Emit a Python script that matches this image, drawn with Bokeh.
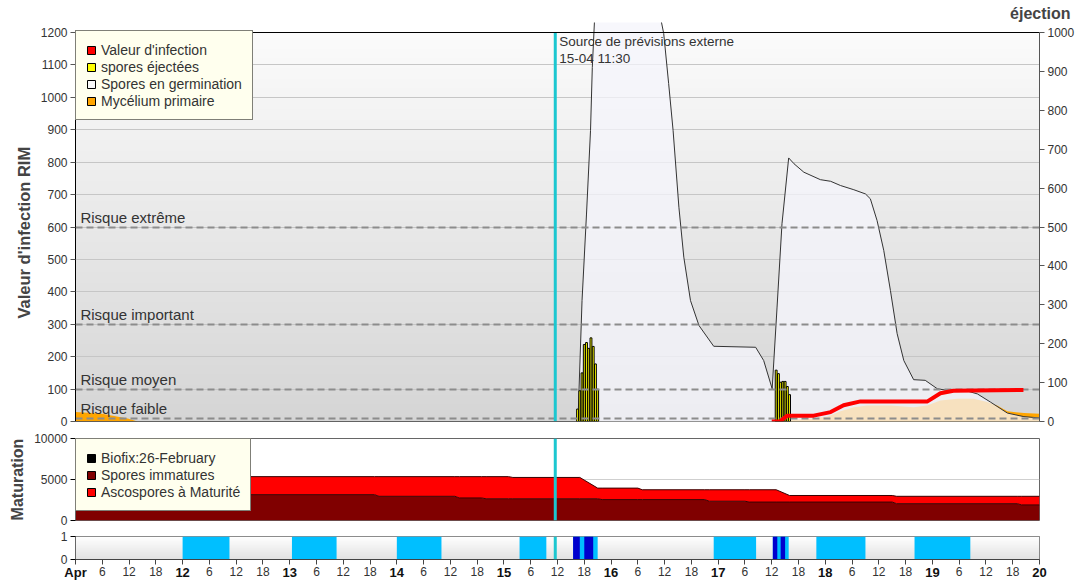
import numpy as np
from bokeh.plotting import figure
from bokeh.models import (ColumnDataSource, Range1d, LinearAxis, FixedTicker, Span,
                          Label, Legend, LegendItem, Grid, Title)
from bokeh.layouts import column
from bokeh.embed import file_html
from bokeh.resources import INLINE

FONT = "Liberation Sans"

# ---------------- data ----------------
# time axis: hours since 11 April 00:00
t_start, t_end = 0, 216
day_labels = ["Apr", "12", "13", "14", "15", "16", "17", "18", "19", "20"]
hour_labels = ["6", "12", "18"]

forecast_t = 107.5
forecast_text = "Source de prévisions externe\n15-04 11:30"

rim_ticks = list(range(0, 1201, 100))
ej_ticks = list(range(0, 1001, 100))
risk_levels = [10, 100, 300, 600]
risk_names = ["Risque faible", "Risque moyen", "Risque important", "Risque extrême"]

# Valeur d'infection (RIM)
inf_t = [156.0, 157.8, 159.5, 165.4, 169.2, 172.1, 175.9, 190.9, 193.8, 196.7, 212.4]
inf_v = [0, 0, 18, 18, 29, 50, 62, 62, 87, 95, 97]

# spores éjectées (right axis)
ej_t = [112.5, 113.0, 113.5, 114.0, 114.5, 115.0, 115.5, 116.0, 116.5, 117.0,
        157.0, 157.5, 158.0, 158.5, 159.0, 159.5, 160.0]
ej_v = [32, 79, 125, 198, 203, 188, 215, 193, 148, 83,
        132, 123, 101, 103, 103, 90, 69]

# Spores en germination
germ_t = [0, 112.3, 112.6, 113.5, 114.5, 115.4, 115.8, 116.5, 118, 121, 125, 129,
          130.3, 131.8, 132.9, 133.9, 135.2, 136.3, 137.8, 139.7, 143.0, 152.4, 154.2,
          156.1, 157.2, 158.3, 159.8, 161.0, 163.2, 166.9, 169.2, 171.4, 174.4, 177.0,
          178.1, 179.6, 181.1, 182.6, 184.1, 185.6, 187.8, 190.4, 193.1, 195.3, 199.8,
          202.1, 205.0, 208.8, 212.5, 216]
germ_v = [0, 0, 5, 373, 640, 898, 1092, 1299, 1500, 1600, 1550, 1400,
          1300, 1197, 1043, 898, 661, 507, 373, 296, 232, 229, 188,
          101, 353, 610, 813, 795, 769, 746, 741, 728, 715, 702,
          687, 620, 528, 404, 271, 188, 129, 127, 101, 96, 94,
          85, 60, 26, 15, 11]

# Mycélium primaire
myc_t = [0, 5.6, 11.7, 13.9, 156.0, 159.5, 160.2, 164.0, 168.4, 171.4, 174.4, 177.4,
         182.6, 187.8, 190.8, 193.8, 197.6, 201.3, 204.3, 206.5, 208.8, 212.5, 216]
myc_v = [29, 25, 9, 0, 0, 1, 5, 8, 15, 32, 44, 49,
         49, 44, 49, 65, 70, 70, 60, 49, 32, 26, 24]

# Maturation
mat_ticks = [0, 5000, 10000]
mat_t = [0, 67, 68, 85, 86, 91, 92, 97, 98, 113, 117, 118, 126, 127, 141, 142,
         150, 151, 157, 160, 183, 184, 211, 212, 216]
mat_immature = [3150, 3150, 2950, 2950, 2750, 2750, 2650, 2650, 2650, 2650, 2650, 2550,
                2550, 2550, 2550, 2350, 2350, 2250, 2250, 2250, 2250, 2050, 2050, 1900, 1900]
mat_mature = [2200, 2200, 2400, 2400, 2600, 2600, 2700, 2700, 2600, 2600, 1300, 1400,
              1400, 1200, 1200, 1400, 1400, 1500, 1500, 800, 800, 900, 900, 1050, 1050]

# wetness / rain strip
strip_ticks = [0, 1]
wet_start = [24, 48.5, 72, 99.5, 111.5, 143, 156.25, 166, 188]
wet_end = [34.5, 58.5, 82, 105.5, 117, 152.5, 159.8, 177, 200.5]
rain_start = [111.5, 114, 156.25, 158]
rain_end = [113, 116, 157.25, 159]

# ---------------- styling ----------------
CYAN = "#1cc7d0"
W_FRAME = 964
B_LEFT = 75
B_RIGHT = 40
TOP1 = 22         # title band above the main frame
H1 = 399          # main frame incl. headroom above the 1200 line
REF_H = 389       # pixel height of the 0..1200 block
RIM_MAX = 1200
EJ_MAX = 1000
rim_top = RIM_MAX * H1 / REF_H
ej_top = EJ_MAX * H1 / REF_H


def gradient(top, bottom, n=256):
    img = np.empty((n, 1), dtype=np.uint32)
    v = img.view(dtype=np.uint8).reshape((n, 1, 4))
    for i in range(n):
        f = i / (n - 1)
        for k in range(3):
            v[i, 0, k] = int(round(bottom[k] + (top[k] - bottom[k]) * f))
        v[i, 0, 3] = 255
    return img


def style_legend(leg):
    leg.background_fill_color = "#ffffee"
    leg.background_fill_alpha = 1
    leg.border_line_color = "black"
    leg.border_line_width = 1
    leg.label_text_font = FONT
    leg.label_text_font_size = "14px"
    leg.label_text_color = "#333333"
    leg.glyph_width = 10
    leg.glyph_height = 10
    leg.label_height = 17
    leg.label_standoff = 5
    leg.spacing = 0
    leg.padding = 10
    leg.margin = 0


def swatch(p, color):
    return p.quad(left=[np.nan], right=[np.nan], top=[np.nan], bottom=[np.nan],
                  fill_color=color, line_color="black", line_width=1)


# ---------------- main figure ----------------
x_range = Range1d(t_start, t_end)
p1 = figure(frame_width=W_FRAME, frame_height=H1, x_range=x_range,
            y_range=Range1d(0, rim_top), x_axis_location=None, y_axis_location=None,
            toolbar_location=None, output_backend="svg",
            min_border_left=B_LEFT, min_border_right=B_RIGHT,
            min_border_top=TOP1, min_border_bottom=7,
            background_fill_color="white", border_fill_color="white",
            outline_line_color=None, title="éjection", title_location="above")
p1.title.align = "right"
p1.title.offset = -31
p1.title.standoff = 2
p1.title.text_font = FONT
p1.title.text_font_size = "16px"
p1.title.text_font_style = "bold"
p1.title.text_color = "#444444"
p1.xgrid.visible = False
p1.ygrid.visible = False
p1.extra_y_ranges = {"ej": Range1d(0, ej_top)}

ax_l = LinearAxis(ticker=FixedTicker(ticks=rim_ticks), bounds=(0, RIM_MAX),
                  axis_line_color="black", major_tick_out=5, major_tick_in=0,
                  minor_tick_line_color=None, major_tick_line_color="#555555",
                  major_label_text_font=FONT, major_label_text_font_size="12px",
                  major_label_text_color="#333333", major_label_standoff=3)
p1.add_layout(ax_l, "left")
p1.add_layout(Title(text="Valeur d'infection RIM", align="left", offset=103,
                    text_font=FONT, text_font_size="16.5px", text_font_style="bold",
                    text_color="#444444"), "left")
ax_r = LinearAxis(y_range_name="ej", ticker=FixedTicker(ticks=ej_ticks), bounds=(0, EJ_MAX),
                  axis_line_color="#555555", major_tick_out=5, major_tick_in=0,
                  minor_tick_line_color=None, major_tick_line_color="#555555",
                  major_label_text_font=FONT, major_label_text_font_size="12px",
                  major_label_text_color="#333333", major_label_standoff=3)
p1.add_layout(ax_r, "right")
p1.add_layout(Grid(dimension=1, ticker=FixedTicker(ticks=rim_ticks),
                   grid_line_color="#c6c6c6", grid_line_width=1))

p1.image_rgba(image=[gradient((251, 251, 251), (213, 213, 213))], x=[t_start], y=[0],
              dw=[t_end - t_start], dh=[RIM_MAX], level="image")

p1.varea(x=myc_t, y1=0, y2=myc_v, fill_color="#ffa500")
p1.varea(x=germ_t, y1=0, y2=germ_v, fill_color="#f4f4fb", fill_alpha=0.76)
p1.line(x=germ_t, y=germ_v, line_color="#333333", line_width=1)
p1.vbar(x=ej_t, width=0.42, top=ej_v, bottom=0, y_range_name="ej",
        fill_color="#ffff00", line_color="black", line_width=1)
p1.hspan(y=risk_levels, line_color="#8c8c8c", line_width=2, line_dash="7 4")
p1.line(x=inf_t, y=inf_v, line_color="#ff0000", line_width=4)
p1.segment(x0=[forecast_t], y0=[0], x1=[forecast_t], y1=[RIM_MAX],
           line_color=CYAN, line_width=3)
p1.add_layout(Span(location=RIM_MAX, dimension="width", line_color="black", line_width=1))
p1.add_layout(Span(location=0, dimension="width", line_color="#333333", line_width=1))

for lvl, name in zip(risk_levels, risk_names):
    p1.add_layout(Label(x=1.1, y=lvl, y_offset=1, text=name, text_font=FONT,
                        text_font_size="15px", text_color="#333333",
                        text_baseline="bottom", text_align="left"))

p1.add_layout(Label(x=forecast_t, x_offset=4, y=RIM_MAX - 5, text=forecast_text,
                    text_font=FONT, text_font_size="13.5px", text_color="#333333",
                    text_baseline="top", text_align="left", text_line_height=1.1))

sw = [swatch(p1, c) for c in ["#ff0000", "#ffff00", "#f8f8f8", "#ffa500"]]
leg1 = Legend(items=[LegendItem(label="Valeur d'infection", renderers=[sw[0]]),
                     LegendItem(label="spores éjectées", renderers=[sw[1]]),
                     LegendItem(label="Spores en germination", renderers=[sw[2]]),
                     LegendItem(label="Mycélium primaire", renderers=[sw[3]])],
              location=(0, 301))
style_legend(leg1)
p1.add_layout(leg1)

# ---------------- maturation figure ----------------
p2 = figure(frame_width=W_FRAME, frame_height=82, x_range=x_range,
            y_range=Range1d(0, 10000), x_axis_location=None,
            toolbar_location=None, output_backend="svg",
            min_border_left=B_LEFT, min_border_right=B_RIGHT,
            min_border_top=10, min_border_bottom=8,
            outline_line_color="#666666", background_fill_color="white")
p2.yaxis.ticker = FixedTicker(ticks=mat_ticks)
p2.yaxis.axis_label = "Maturation"
p2.yaxis.axis_label_text_font = FONT
p2.yaxis.axis_label_text_font_size = "16px"
p2.yaxis.axis_label_text_font_style = "bold"
p2.yaxis.axis_label_text_color = "#444444"
p2.yaxis.axis_label_standoff = 5
p2.yaxis.major_label_text_font = FONT
p2.yaxis.major_label_text_font_size = "12px"
p2.yaxis.major_label_text_color = "#333333"
p2.yaxis.major_label_standoff = 3
p2.yaxis.major_tick_out = 5
p2.yaxis.major_tick_in = 0
p2.yaxis.minor_tick_line_color = None
p2.yaxis.axis_line_color = "#666666"
p2.ygrid.ticker = FixedTicker(ticks=mat_ticks)
p2.ygrid.grid_line_color = "#cfcfcf"
p2.xgrid.visible = False

src2 = ColumnDataSource(dict(t=mat_t, immature=mat_immature, mature=mat_mature))
p2.varea_stack(stackers=["immature", "mature"], x="t", color=["#800000", "#ff0000"],
               source=src2)
p2.vline_stack(stackers=["immature", "mature"], x="t", color="#3a0000", line_width=1,
               source=src2)
p2.add_layout(Span(location=forecast_t, dimension="height", line_color=CYAN, line_width=3))

sw2 = [swatch(p2, c) for c in ["#000000", "#800000", "#ff0000"]]
leg2 = Legend(items=[LegendItem(label="Biofix:26-February", renderers=[sw2[0]]),
                     LegendItem(label="Spores immatures", renderers=[sw2[1]]),
                     LegendItem(label="Ascospores à Maturité", renderers=[sw2[2]])],
              location="top_left")
style_legend(leg2)
p2.add_layout(leg2)

# ---------------- wetness strip ----------------
p3 = figure(frame_width=W_FRAME, frame_height=23, x_range=x_range,
            y_range=Range1d(0, 1), x_axis_location=None,
            toolbar_location=None, output_backend="svg",
            min_border_left=B_LEFT, min_border_right=B_RIGHT,
            min_border_top=8, min_border_bottom=18,
            outline_line_color="#666666", background_fill_color="white")
p3.yaxis.ticker = FixedTicker(ticks=strip_ticks)
p3.yaxis.major_label_text_font = FONT
p3.yaxis.major_label_text_font_size = "12px"
p3.yaxis.major_label_text_color = "#333333"
p3.yaxis.major_label_standoff = 3
p3.yaxis.major_tick_out = 5
p3.yaxis.major_tick_in = 0
p3.yaxis.minor_tick_line_color = None
p3.yaxis.axis_line_color = "#666666"
p3.xgrid.visible = False
p3.ygrid.visible = False

p3.image_rgba(image=[gradient((255, 255, 255), (226, 226, 226), n=64)], x=[t_start], y=[0],
              dw=[t_end - t_start], dh=[1], level="image")
p3.quad(left=wet_start, right=wet_end, bottom=0, top=1, fill_color="#00bfff", line_color=None)
p3.quad(left=rain_start, right=rain_end, bottom=0, top=1, fill_color="#0000cd", line_color=None)
p3.add_layout(Span(location=forecast_t, dimension="height", line_color=CYAN, line_width=3))

# hour labels (regular) on the first axis, day labels (bold) pulled onto the same row
hour_ticks = list(range(t_start, t_end + 1, 6))
hour_over = {h: ("" if h % 24 == 0 else hour_labels[(h % 24) // 6 - 1]) for h in hour_ticks}
ax_h = LinearAxis(ticker=FixedTicker(ticks=hour_ticks), major_label_overrides=hour_over,
                  axis_line_color="#444444", major_tick_out=5, major_tick_in=0,
                  major_tick_line_color="#444444", minor_tick_line_color=None,
                  major_label_text_font=FONT, major_label_text_font_size="12px",
                  major_label_text_color="#333333", major_label_standoff=2)
p3.add_layout(ax_h, "below")
day_ticks = list(range(t_start, t_end + 1, 24))
day_over = {d: lab for d, lab in zip(day_ticks, day_labels)}
ax_d = LinearAxis(ticker=FixedTicker(ticks=day_ticks), major_label_overrides=day_over,
                  axis_line_color=None, major_tick_out=0, major_tick_in=0,
                  major_tick_line_color=None, minor_tick_line_color=None,
                  major_label_text_font=FONT, major_label_text_font_size="13px",
                  major_label_text_font_style="bold",
                  major_label_text_color="#111111", major_label_standoff=-14)
p3.add_layout(ax_d, "below")

layout = column(p1, p2, p3, spacing=0)
open("out.html", "w").write(file_html(layout, INLINE, "RIMpro"))
